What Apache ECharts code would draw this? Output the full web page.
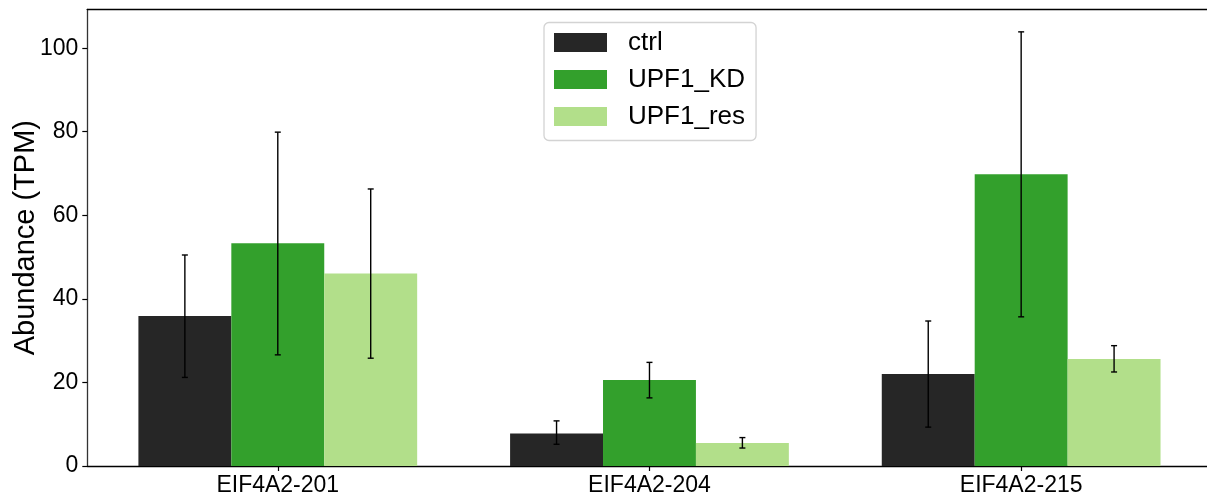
<!DOCTYPE html>
<html>
<head>
<meta charset="utf-8">
<script src="https://cdn.jsdelivr.net/npm/echarts@6/dist/echarts.min.js"></script>
<style>html,body{margin:0;padding:0;background:#fff;}#chart{width:1207px;height:498px;}</style>
</head>
<body>
<div id="chart"></div>
<script>
const categories = ['EIF4A2-201', 'EIF4A2-204', 'EIF4A2-215'];
const seriesNames = ['ctrl', 'UPF1_KD', 'UPF1_res'];
const ctrlValues = [35.9, 7.8, 22.0];
const ctrlLow = [21.2, 5.2, 9.3];
const ctrlHigh = [50.5, 10.8, 34.7];
const kdValues = [53.3, 20.6, 69.8];
const kdLow = [26.6, 16.3, 35.7];
const kdHigh = [79.9, 24.8, 103.9];
const resValues = [46.1, 5.5, 25.6];
const resLow = [25.8, 4.3, 22.5];
const resHigh = [66.3, 6.8, 28.8];
const yTicks = [0, 20, 40, 60, 80, 100];
const colors = ['#262626', '#33a02c', '#b2df8a'];

const BARW = 0.25;
const FONT = '"Liberation Sans", Arial, sans-serif';

function rows(vals, lo, hi) {
  return categories.map((c, i) => [i, vals[i], lo[i], hi[i]]);
}
const seriesData = [
  rows(ctrlValues, ctrlLow, ctrlHigh),
  rows(kdValues, kdLow, kdHigh),
  rows(resValues, resLow, resHigh)
];

function renderItem(params, api) {
  const x = api.value(0), v = api.value(1), lo = api.value(2), hi = api.value(3);
  const cx = x + (params.seriesIndex - 1) * BARW;
  const p0 = api.coord([cx - BARW / 2, 0]);
  const p1 = api.coord([cx + BARW / 2, v]);
  const c = api.coord([cx, lo]);
  const h = api.coord([cx, hi]);
  const cap = 3;
  const lineStyle = { stroke: '#000', lineWidth: 1.4 };
  return {
    type: 'group',
    children: [
      { type: 'rect', shape: { x: p0[0], y: p1[1], width: p1[0] - p0[0], height: p0[1] - p1[1] },
        style: { fill: colors[params.seriesIndex] } },
      { type: 'line', shape: { x1: c[0], y1: c[1], x2: h[0], y2: h[1] }, style: lineStyle },
      { type: 'line', shape: { x1: c[0] - cap, y1: c[1], x2: c[0] + cap, y2: c[1] }, style: lineStyle },
      { type: 'line', shape: { x1: h[0] - cap, y1: h[1], x2: h[0] + cap, y2: h[1] }, style: lineStyle }
    ]
  };
}

const chart = echarts.init(document.getElementById('chart'), null, { renderer: 'canvas' });
chart.setOption({
  animation: false,
  backgroundColor: '#fff',
  textStyle: { fontFamily: FONT },
  grid: { left: 87.3, right: 0, top: 9.3, bottom: 32, containLabel: false, outerBoundsMode: 'none' },
  legend: {
    orient: 'vertical',
    left: 544,
    top: 22.5,
    itemWidth: 53,
    itemHeight: 19,
    itemGap: 11,
    padding: [7, 11, 11, 10],
    borderColor: '#d3d3d3',
    borderWidth: 1.3,
    borderRadius: 5,
    backgroundColor: '#fff',
    icon: 'rect',
    textStyle: { fontSize: 26, color: '#000', fontFamily: FONT, lineHeight: 26, padding: [0, 0, 0, 16] },
    data: seriesNames.map((n, i) => ({ name: n, itemStyle: { color: colors[i] } }))
  },
  xAxis: [{
    type: 'value',
    min: -0.5125,
    max: 2.5,
    splitLine: { show: false },
    axisLine: { show: true, onZero: false, lineStyle: { color: '#000', width: 1.3 } },
    axisTick: { show: true, customValues: [0, 1, 2], length: 5, lineStyle: { color: '#000', width: 1.2 } },
    axisLabel: { customValues: [0, 1, 2], formatter: v => categories[Math.round(v)], fontSize: 23, color: '#000', margin: 8, fontFamily: FONT }
  }, {
    type: 'value',
    position: 'top',
    min: -0.5125,
    max: 2.5,
    splitLine: { show: false },
    axisLine: { show: true, onZero: false, lineStyle: { color: '#000', width: 1.3 } },
    axisTick: { show: false },
    axisLabel: { show: false }
  }],
  yAxis: {
    type: 'value',
    position: 'left',
    min: 0,
    max: 109.3,
    name: 'Abundance (TPM)',
    nameLocation: 'middle',
    nameGap: 47,
    nameMoveOverlap: false,
    nameTextStyle: { fontSize: 29, color: '#000', fontFamily: FONT },
    splitLine: { show: false },
    axisLine: { show: true, onZero: false, lineStyle: { color: '#333', width: 1.3 } },
    axisTick: { show: true, customValues: yTicks, length: 5, lineStyle: { color: '#000', width: 1.2 } },
    axisLabel: { customValues: yTicks, fontSize: 23, color: '#000', margin: 9, fontFamily: FONT }
  },
  series: seriesNames.map((n, i) => ({
    name: n,
    type: 'custom',
    renderItem: renderItem,
    itemStyle: { color: colors[i] },
    encode: { x: 0, y: [1, 2, 3] },
    data: seriesData[i]
  }))
});
</script>
</body>
</html>
